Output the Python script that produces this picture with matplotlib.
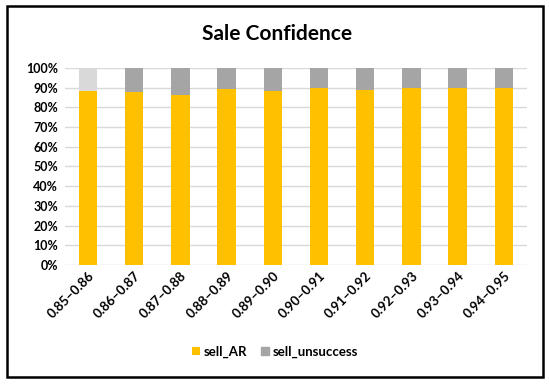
import matplotlib.pyplot as plt
from matplotlib.patches import Rectangle
from matplotlib.ticker import PercentFormatter
import numpy as np

plt.rcParams['font.family'] = ['Lato', 'DejaVu Sans']

categories = ['0.85\u20130.86', '0.86\u20130.87', '0.87\u20130.88', '0.88\u20130.89', '0.89\u20130.90',
              '0.90\u20130.91', '0.91\u20130.92', '0.92\u20130.93', '0.93\u20130.94', '0.94\u20130.95']
sell_ar = [88.5, 88.0, 86.5, 89.5, 88.5, 90.0, 89.0, 90.0, 90.0, 90.0]
sell_unsuccess = [100 - v for v in sell_ar]
yellow = '#ffc000'
gray = '#a5a5a5'
unsucc_colors = ['#d9d9d9'] + [gray] * 9

fig = plt.figure(figsize=(5.5, 3.86), dpi=100)
ax = fig.add_axes([0.118, 0.3135, 0.84, 0.5105])

x = np.arange(len(categories))
ax.bar(x, sell_ar, width=0.4, color=yellow, label='sell_AR', zorder=3)
ax.bar(x, sell_unsuccess, width=0.4, bottom=sell_ar, color=unsucc_colors, label='sell_unsuccess', zorder=3)

ax.set_xlim(-0.5, len(categories) - 0.5)
ax.set_ylim(0, 100)
ax.set_yticks(np.arange(0, 101, 10))
ax.yaxis.set_major_formatter(PercentFormatter(decimals=0))
ax.grid(axis='y', color='#d9d9d9', linewidth=1, zorder=0)
for s in ax.spines.values():
    s.set_visible(False)
ax.tick_params(length=0)
ax.tick_params(axis='y', pad=5, labelsize=9)
ax.set_xticks(x)
ax.set_xticklabels(categories, rotation=45, ha='right', rotation_mode='anchor', fontsize=9.5)
for lbl in ax.get_xticklabels() + ax.get_yticklabels():
    lbl.set_fontweight('bold')

fig.text(0.504, 0.912, 'Sale Confidence', ha='center', va='center', fontsize=15, fontweight='bold')

h, l = ax.get_legend_handles_labels()
leg = fig.legend(h, l, loc='center', bbox_to_anchor=(0.5, 0.088), ncol=2, frameon=False,
                 prop={'size': 9.5, 'weight': 'bold'}, handlelength=0.6, handleheight=0.6,
                 handletextpad=0.3, columnspacing=1.0)
leg.legend_handles[1].set_color(gray)

fig.patches.append(Rectangle((7 / 550, 9 / 386), 536 / 550, 371 / 386, transform=fig.transFigure,
                             fill=False, edgecolor='black', linewidth=1.8))

fig.savefig('out.png', dpi=100)
